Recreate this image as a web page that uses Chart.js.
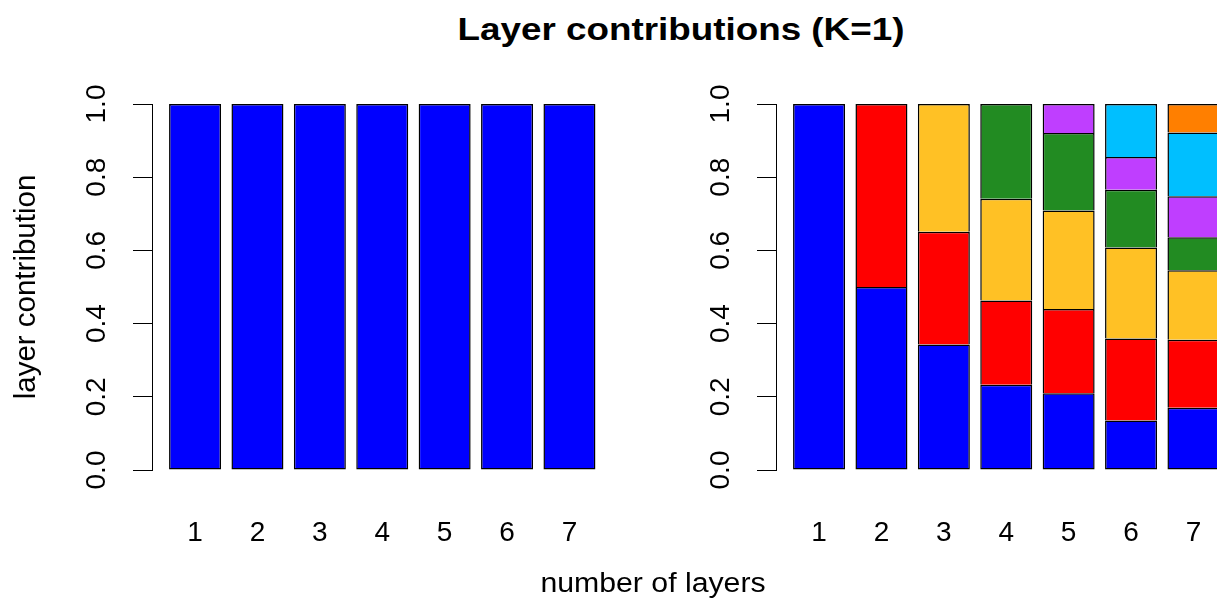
<!DOCTYPE html>
<html><head><meta charset="utf-8">
<script src="https://cdn.jsdelivr.net/npm/chart.js@4.4.1/dist/chart.umd.min.js"></script>
<style>
html,body{margin:0;padding:0;background:#fff;overflow:hidden;width:1217px;height:602px;}
#wrap{position:relative;width:1217px;height:602px;overflow:hidden;background:#fff;}
canvas{position:absolute;top:0;}
#c1{left:0;}
#c2{left:624px;}
.t{position:absolute;white-space:nowrap;font-family:"Liberation Sans",Arial,Helvetica,sans-serif;color:#000;text-align:center;transform-origin:50% 50%;}
#title{left:281px;width:800px;top:13px;font-size:32px;line-height:32px;font-weight:bold;transform:scaleX(1.15);}
#xtitle{left:453px;width:400px;top:570px;font-size:27px;line-height:27px;transform:scaleX(1.12);}
</style></head><body>
<div id="wrap">
<div id="title" class="t">Layer contributions (K=1)</div>
<canvas id="c1" width="640" height="602"></canvas>
<canvas id="c2" width="640" height="602"></canvas>
<div id="xtitle" class="t">number of layers</div>
</div>
<script>
// ---- data ----
const layerCounts = [1, 2, 3, 4, 5, 6, 7];
const yTickValues = [0, 0.2, 0.4, 0.6, 0.8, 1.0];
const singleLayerValues = [1, 1, 1, 1, 1, 1, 1];
const layer1 = [1.000, 0.500, 0.343, 0.233, 0.210, 0.135, 0.170];
const layer2 = [null, 0.500, 0.308, 0.230, 0.230, 0.224, 0.186];
const layer3 = [null, null, 0.349, 0.278, 0.269, 0.249, 0.190];
const layer4 = [null, null, null, 0.259, 0.212, 0.158, 0.090];
const layer5 = [null, null, null, null, 0.079, 0.089, 0.112];
const layer6 = [null, null, null, null, null, 0.145, 0.174];
const layer7 = [null, null, null, null, null, null, 0.078];
const layerColors = ['#0000FF', '#FF0000', '#FFC125', '#228B22', '#BF3EFF', '#00BFFF', '#FF7F00'];
const titleY = 'layer contribution';

// ---- chart setup ----
const FONT = '"Liberation Sans", Arial, Helvetica, sans-serif';

function makeOptions(yTitle) {
  return {
    responsive: false,
    animation: false,
    devicePixelRatio: 1,
    layout: { padding: { left: 0, top: 104, right: 27.5, bottom: 0 } },
    plugins: { legend: { display: false }, tooltip: { enabled: false }, title: { display: false } },
    scales: {
      x: {
        type: 'linear', min: 0.31, max: 7.69, offset: false,
        grid: { display: false, drawTicks: false, offset: false },
        border: { display: false },
        afterBuildTicks: s => { s.ticks = layerCounts.map(v => ({ value: v })); },
        afterFit: s => { s.height = 132; },
        ticks: { font: { family: FONT, size: 28 }, color: '#000', padding: 46,
                 minRotation: 0, maxRotation: 0, autoSkip: false, callback: v => String(v) }
      },
      y: {
        type: 'linear', min: 0, max: 1,
        afterBuildTicks: s => { s.ticks = yTickValues.map(v => ({ value: v })); },
        afterFit: s => { s.width = 152; },
        grid: { display: true, drawOnChartArea: false, drawTicks: true, tickLength: 19, color: '#000', lineWidth: 1 },
        border: { display: true, color: '#000', width: 1 },
        ticks: { font: { family: FONT, size: 28 }, color: '#000', padding: 16,
                 minRotation: 90, maxRotation: 90, crossAlign: 'center', autoSkip: false,
                 callback: v => Number(v).toFixed(1) },
        title: { display: !!yTitle, text: yTitle || '', font: { family: FONT, size: 29.5 }, color: '#000',
                 padding: { top: 9, bottom: 0 } }
      }
    }
  };
}

function barSet(values, color, isBottom) {
  return {
    data: values,
    backgroundColor: color,
    borderColor: '#000',
    borderWidth: 1.5,
    borderSkipped: isBottom ? false : 'start',
    stack: 'layers',
    categoryPercentage: 1,
    barPercentage: 1 / 1.2
  };
}

new Chart(document.getElementById('c1'), {
  type: 'bar',
  data: { labels: layerCounts, datasets: [barSet(singleLayerValues, layerColors[0], true)] },
  options: makeOptions(titleY)
});

const rightLayers = [layer1, layer2, layer3, layer4, layer5, layer6, layer7];
new Chart(document.getElementById('c2'), {
  type: 'bar',
  data: { labels: layerCounts, datasets: rightLayers.map((vals, i) => barSet(vals, layerColors[i], i === 0)) },
  options: makeOptions(null)
});
</script>
</body></html>
